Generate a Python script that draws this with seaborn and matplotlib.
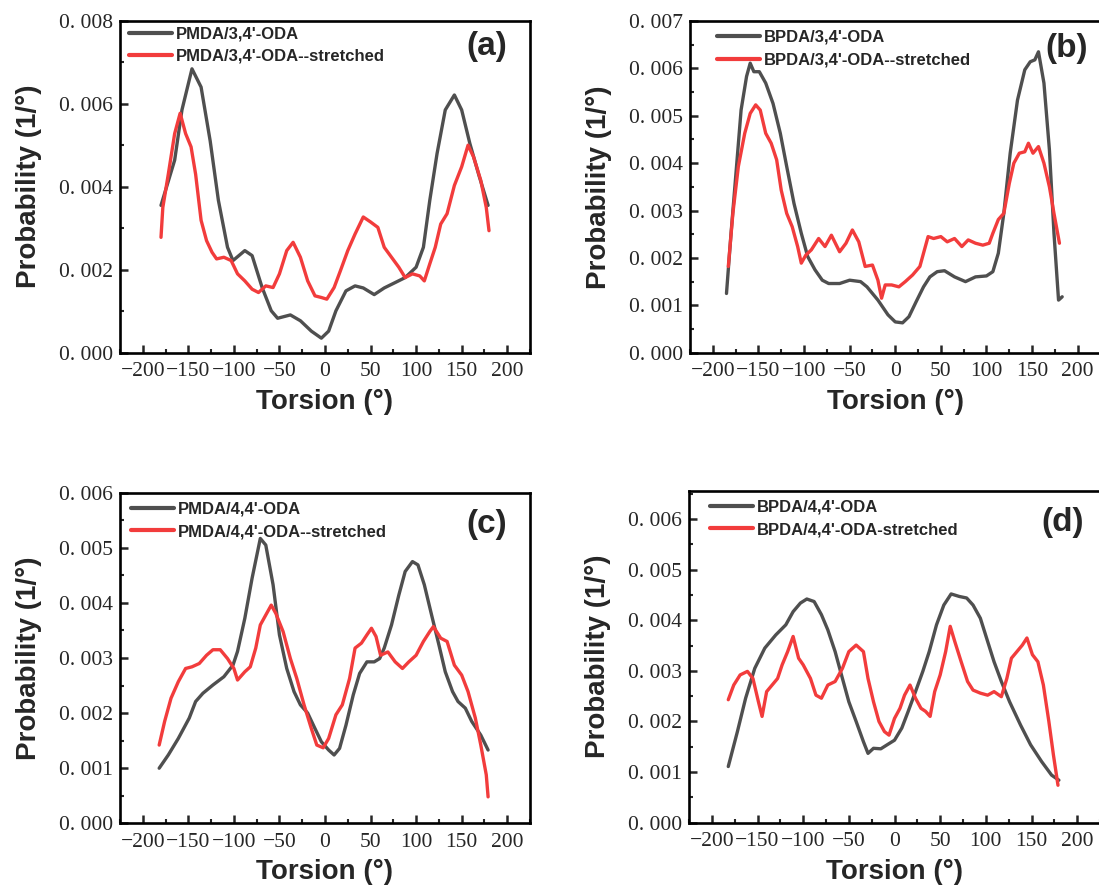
import numpy as np
import pandas as pd
import matplotlib
matplotlib.use("Agg")
import matplotlib.pyplot as plt
from matplotlib.ticker import MultipleLocator, FuncFormatter
import seaborn as sns

# ---------------- data ----------------
# (a) PMDA/3,4'-ODA
a_black_x = [-180, -165, -157, -146, -136, -126, -117, -107, -101, -88, -80, -69, -59, -52, -38, -27, -15, -4, 4, 12, 23, 33, 42, 54, 65, 77, 88, 100, 108, 115, 123, 132, 142, 150, 159, 169, 179]
a_black_y = [0.00355, 0.00464, 0.00585, 0.00684, 0.0064, 0.0051, 0.00367, 0.00254, 0.00222, 0.00246, 0.00234, 0.00157, 0.00101, 0.00083, 0.00091, 0.00077, 0.00052, 0.00035, 0.00052, 0.00101, 0.00149, 0.00161, 0.00156, 0.0014, 0.00156, 0.00169, 0.00181, 0.00206, 0.00254, 0.00367, 0.0048, 0.00585, 0.00621, 0.00585, 0.00504, 0.00427, 0.00355]
a_red_x = [-180, -178, -172, -165, -159, -153, -147, -142, -136, -130, -124, -119, -111, -103, -96, -88, -80, -73, -65, -57, -50, -42, -35, -27, -19, -11, -4, 2, 10, 17, 25, 33, 42, 50, 58, 65, 73, 81, 88, 96, 104, 109, 115, 121, 127, 134, 142, 150, 157, 163, 171, 177, 180]
a_red_y = [0.00278, 0.0035, 0.0043, 0.00528, 0.00577, 0.00528, 0.00496, 0.0043, 0.00319, 0.0027, 0.00242, 0.00226, 0.0023, 0.00222, 0.0019, 0.00173, 0.00153, 0.00145, 0.00161, 0.00157, 0.0019, 0.00246, 0.00266, 0.0023, 0.00173, 0.00137, 0.00133, 0.00129, 0.00157, 0.00198, 0.00246, 0.00286, 0.00327, 0.00315, 0.00302, 0.00254, 0.0023, 0.00206, 0.00181, 0.0019, 0.00185, 0.00173, 0.00214, 0.00254, 0.0031, 0.00335, 0.00403, 0.00448, 0.005, 0.00472, 0.00415, 0.0035, 0.00294]

# (b) BPDA/3,4'-ODA
b_black_x = [-185, -180, -174, -169, -163, -159, -155, -149, -142, -134, -126, -119, -111, -103, -96, -88, -80, -73, -61, -50, -38, -31, -19, -8, 0, 8, 15, 23, 31, 38, 46, 54, 65, 77, 88, 100, 107, 113, 119, 126, 134, 142, 148, 153, 157, 163, 169, 174, 179, 183]
b_black_y = [0.00125, 0.00252, 0.00393, 0.00512, 0.00583, 0.00611, 0.00593, 0.00593, 0.00569, 0.00526, 0.00463, 0.00393, 0.00315, 0.00252, 0.00203, 0.00175, 0.00153, 0.00146, 0.00146, 0.00153, 0.0015, 0.00139, 0.00111, 0.0008, 0.00065, 0.00063, 0.00076, 0.00108, 0.00139, 0.0016, 0.00171, 0.00173, 0.0016, 0.0015, 0.0016, 0.00162, 0.00171, 0.0021, 0.00294, 0.00421, 0.00533, 0.00597, 0.00614, 0.00618, 0.00635, 0.00569, 0.00428, 0.00252, 0.00111, 0.00118]
b_red_x = [-183, -178, -172, -165, -159, -153, -148, -142, -136, -130, -125, -119, -113, -107, -103, -98, -92, -84, -77, -70, -61, -54, -47, -40, -33, -25, -19, -15, -11, -4, 4, 11, 19, 27, 33, 36, 42, 50, 57, 65, 73, 80, 88, 96, 103, 107, 113, 119, 125, 130, 136, 142, 146, 151, 157, 163, 169, 174, 180]
b_red_y = [0.00182, 0.00294, 0.00393, 0.00463, 0.00505, 0.00523, 0.00512, 0.00463, 0.00442, 0.00407, 0.00343, 0.00294, 0.00266, 0.00224, 0.00189, 0.00206, 0.00217, 0.00241, 0.00224, 0.00248, 0.00213, 0.00231, 0.00259, 0.00234, 0.00182, 0.00185, 0.00153, 0.00115, 0.00143, 0.00143, 0.00139, 0.0015, 0.00164, 0.00182, 0.00224, 0.00245, 0.00241, 0.00245, 0.00234, 0.00241, 0.00224, 0.00238, 0.00231, 0.00227, 0.00231, 0.00252, 0.00281, 0.00294, 0.00357, 0.004, 0.00421, 0.00424, 0.00442, 0.00421, 0.00435, 0.004, 0.0035, 0.00294, 0.00231]

# (c) PMDA/4,4'-ODA
c_black_x = [-182, -172, -161, -149, -142, -134, -123, -111, -101, -96, -88, -80, -71, -65, -57, -50, -42, -34, -27, -19, -11, -4, 4, 10, 16, 23, 31, 38, 46, 54, 60, 65, 73, 81, 88, 96, 102, 109, 117, 125, 132, 140, 146, 154, 161, 171, 179]
c_black_y = [0.001, 0.00124, 0.00154, 0.00191, 0.00221, 0.00236, 0.00251, 0.00266, 0.00287, 0.00312, 0.00372, 0.00445, 0.00517, 0.00505, 0.00433, 0.00342, 0.00281, 0.00239, 0.00215, 0.002, 0.00172, 0.00148, 0.00133, 0.00124, 0.00136, 0.00178, 0.00233, 0.00272, 0.00293, 0.00293, 0.00299, 0.00318, 0.0036, 0.00414, 0.00457, 0.00475, 0.00469, 0.00433, 0.00378, 0.00324, 0.00275, 0.00239, 0.00221, 0.00209, 0.00185, 0.0016, 0.00133]
c_red_x = [-182, -176, -169, -161, -153, -146, -138, -130, -123, -115, -107, -100, -96, -88, -82, -76, -71, -65, -59, -54, -46, -38, -31, -23, -15, -9, -2, 4, 12, 19, 27, 33, 40, 46, 51, 56, 61, 69, 77, 85, 92, 100, 108, 115, 119, 127, 134, 142, 150, 157, 165, 171, 177, 179]
c_red_y = [0.00142, 0.00185, 0.00227, 0.00257, 0.00281, 0.00284, 0.0029, 0.00305, 0.00315, 0.00315, 0.00299, 0.00281, 0.0026, 0.00275, 0.00284, 0.00318, 0.0036, 0.00378, 0.00396, 0.00381, 0.00348, 0.00299, 0.00263, 0.00215, 0.00172, 0.00142, 0.00137, 0.00154, 0.00197, 0.00215, 0.00263, 0.00318, 0.00327, 0.00342, 0.00354, 0.00339, 0.00305, 0.00311, 0.00293, 0.00281, 0.00293, 0.00305, 0.0033, 0.00348, 0.00357, 0.00336, 0.0033, 0.00287, 0.00269, 0.00239, 0.00191, 0.00142, 0.00088, 0.00048]

# (d) BPDA/4,4'-ODA
d_black_x = [-182, -172, -163, -153, -142, -130, -119, -111, -103, -96, -88, -80, -73, -65, -57, -50, -42, -34, -29, -23, -15, -8, 0, 8, 15, 23, 31, 38, 46, 54, 62, 71, 79, 86, 94, 102, 109, 117, 126, 138, 149, 161, 172, 180]
d_black_y = [0.00111, 0.0018, 0.00246, 0.00305, 0.00345, 0.00371, 0.00391, 0.00417, 0.00434, 0.00442, 0.00437, 0.00411, 0.00381, 0.00338, 0.00285, 0.00239, 0.002, 0.0016, 0.00137, 0.00147, 0.00146, 0.00154, 0.00163, 0.00187, 0.0022, 0.00259, 0.00299, 0.00338, 0.00391, 0.0043, 0.00452, 0.00447, 0.00444, 0.0043, 0.00404, 0.00358, 0.00318, 0.00279, 0.00239, 0.00193, 0.00154, 0.00121, 0.00094, 0.00084]
d_red_x = [-182, -176, -169, -161, -155, -149, -145, -140, -134, -128, -123, -117, -111, -105, -100, -92, -86, -80, -73, -65, -57, -50, -42, -34, -29, -23, -17, -11, -6, 0, 6, 11, 17, 23, 29, 34, 39, 44, 50, 56, 61, 66, 73, 80, 86, 94, 102, 109, 117, 123, 128, 134, 140, 145, 151, 157, 163, 169, 174, 179]
d_red_y = [0.00243, 0.00272, 0.00292, 0.00299, 0.00285, 0.00239, 0.0021, 0.00259, 0.00272, 0.00285, 0.00312, 0.00338, 0.00368, 0.00325, 0.00312, 0.00285, 0.00252, 0.00246, 0.00272, 0.00279, 0.00305, 0.00338, 0.00351, 0.00338, 0.00285, 0.00239, 0.002, 0.0018, 0.00173, 0.00206, 0.00226, 0.00252, 0.00272, 0.00246, 0.00226, 0.0022, 0.0021, 0.00259, 0.00292, 0.00338, 0.00388, 0.00358, 0.00318, 0.00279, 0.00262, 0.00256, 0.00252, 0.00259, 0.00249, 0.00285, 0.00325, 0.00338, 0.00351, 0.00365, 0.00332, 0.00318, 0.00272, 0.002, 0.00134, 0.00074]

panels = [
    dict(tag="(a)", names=["PMDA/3,4'-ODA", "PMDA/3,4'-ODA--stretched"],
         series=[(a_black_x, a_black_y), (a_red_x, a_red_y)], ymax=0.008, ymaj=0.002,
         rect=[120, 20.7, 530, 352.7], leg=(0.022, 0.983), tagpos=(0.895, 0.921)),
    dict(tag="(b)", names=["BPDA/3,4'-ODA", "BPDA/3,4'-ODA--stretched"],
         series=[(b_black_x, b_black_y), (b_red_x, b_red_y)], ymax=0.007, ymaj=0.001,
         rect=[690, 21, 1100.5, 352.7], leg=(0.066, 0.973), tagpos=(0.918, 0.916)),
    dict(tag="(c)", names=["PMDA/4,4'-ODA", "PMDA/4,4'-ODA--stretched"],
         series=[(c_black_x, c_black_y), (c_red_x, c_red_y)], ymax=0.006, ymaj=0.001,
         rect=[120, 492.7, 530, 823.3], leg=(0.027, 0.973), tagpos=(0.895, 0.905)),
    dict(tag="(d)", names=["BPDA/4,4'-ODA", "BPDA/4,4'-ODA-stretched"],
         series=[(d_black_x, d_black_y), (d_red_x, d_red_y)], ymax=0.00656, ymaj=0.001,
         rect=[689, 490.7, 1100, 822.7], leg=(0.051, 0.973), tagpos=(0.91, 0.903)),
]

sns.set_style("ticks")
plt.rcParams["font.family"] = ["Liberation Sans", "DejaVu Sans"]
plt.rcParams["axes.unicode_minus"] = True

W, H = 1099, 891
fig = plt.figure(figsize=(W / 100, H / 100), dpi=100)
colors = ["#4f4f4f", "#f23c3c"]

for p in panels:
    x0, y0, x1, y1 = p["rect"]
    ax = fig.add_axes([x0 / W, (H - y1) / H, (x1 - x0) / W, (y1 - y0) / H])
    frames = []
    for name, (xs, ys) in zip(p["names"], p["series"]):
        frames.append(pd.DataFrame({"Torsion": xs, "Prob": ys, "series": name}))
    df = pd.concat(frames, ignore_index=True)
    sns.lineplot(data=df, x="Torsion", y="Prob", hue="series", palette=colors,
                 linewidth=2.4, ax=ax, sort=False, estimator=None)
    ax.set_xlim(-225, 225)
    ax.set_ylim(0, p["ymax"])
    ax.xaxis.set_major_locator(MultipleLocator(50))
    ax.xaxis.set_minor_locator(MultipleLocator(25))
    ax.yaxis.set_major_locator(MultipleLocator(p["ymaj"]))
    ax.yaxis.set_minor_locator(MultipleLocator(p["ymaj"] / 2))
    ax.xaxis.set_major_formatter(FuncFormatter(lambda v, pos: f"{int(round(v))}".replace("-", "\u2212")))
    ax.yaxis.set_major_formatter(FuncFormatter(lambda v, pos: f"{v:.3f}".replace(".", ". ")))
    ax.tick_params(which="major", direction="in", length=6, width=1.8,
                   top=False, right=False)
    ax.tick_params(axis="x", which="major", pad=7)
    ax.tick_params(axis="y", which="major", pad=5)
    ax.tick_params(which="minor", direction="in", length=3, width=1.5,
                   top=False, right=False)
    for lab in ax.get_xticklabels() + ax.get_yticklabels():
        lab.set_fontfamily("Liberation Serif")
        lab.set_fontsize(15.5)
    for s in ax.spines.values():
        s.set_visible(True)
        s.set_linewidth(1.9)
        s.set_color("black")
    ax.set_xlabel("Torsion (°)", fontsize=20, fontweight="bold")
    ax.set_ylabel("Probability (1/°)", fontsize=20, fontweight="bold")
    ax.xaxis.set_label_coords(0.5, -0.108)
    ax.yaxis.set_label_coords(-0.19, 0.5)
    leg = ax.legend(loc="upper left", bbox_to_anchor=p["leg"], frameon=False,
                    prop={"weight": "bold", "size": 12}, handlelength=2.6,
                    handletextpad=0.2, labelspacing=0.45, borderpad=0, borderaxespad=0)
    for h in leg.get_lines():
        h.set_linewidth(3.0)
    ax.text(p["tagpos"][0], p["tagpos"][1], p["tag"], transform=ax.transAxes,
            ha="center", va="center", fontsize=24, fontweight="bold")

fig.savefig("out.png", dpi=100)
